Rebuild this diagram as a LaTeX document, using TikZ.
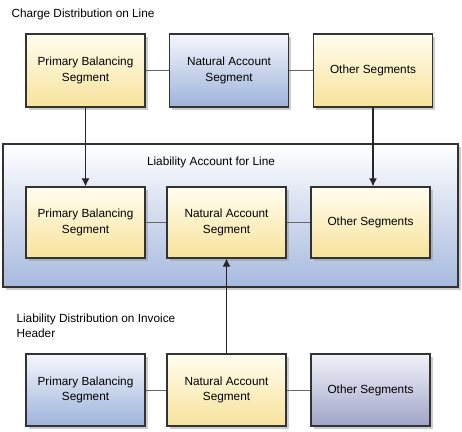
\documentclass[tikz,border=0pt]{standalone}
\usepackage{fontspec}
\setmainfont{Liberation Sans}
\usetikzlibrary{shadows,arrows.meta}
\definecolor{ylwtop}{HTML}{FFFDEF}
\definecolor{ylwbot}{HTML}{F7E39B}
\definecolor{blutop}{HTML}{F4F6FC}
\definecolor{blubot}{HTML}{9EB3DB}
\definecolor{grytop}{HTML}{F2F2F8}
\definecolor{grybot}{HTML}{9FA4C8}
\tikzset{acctbox/.style={draw=black!80,line width=1.3pt,inner sep=0pt,align=center,
    drop shadow={shadow xshift=2.5pt,shadow yshift=-2.5pt,fill=black!40,opacity=0.5}},
  ylwseg/.style={acctbox,minimum width=119pt,minimum height=72pt,top color=ylwtop,bottom color=ylwbot},
  bluseg/.style={acctbox,minimum width=119pt,minimum height=72pt,top color=blutop,bottom color=blubot},
  gryseg/.style={acctbox,minimum width=119pt,minimum height=72pt,top color=grytop,bottom color=grybot},
  acctlink/.style={draw=black!60,line width=1pt},
  acctflow/.style={line width=1.1pt,draw=black!85,-{Latex[length=8pt,width=8pt]}}}

\begin{document}
\begin{tikzpicture}[x=1pt,y=-1pt,font=\fontsize{11.8}{15.5}\selectfont]
\useasboundingbox (0,0) rectangle (462,431);
% charge distribution
\node (chg) [anchor=west] at (8,14) {Charge Distribution on Line};
\node (cpb) [ylwseg,minimum height=73pt] at (85.5,70.5) {Primary Balancing\\Segment};
\node (cna) [bluseg,minimum height=73pt] at (229,70.5) {Natural Account\\Segment};
\node (cos) [ylwseg,minimum height=73pt] at (373,70.5) {Other Segments};
\draw[acctlink] (cpb) -- (cna);
\draw[acctlink] (cna) -- (cos);
% liability account
\node (liab) [acctbox,minimum width=455pt,minimum height=143pt,top color=white,bottom color=blubot!92] at (230.5,215.5) {};
\node (liabt) at (211,162) {Liability Account for Line};
\node (lpb) [ylwseg,minimum height=71pt] at (85.5,222.5) {Primary Balancing\\Segment};
\node (lna) [ylwseg,minimum height=71pt] at (226.5,222.5) {Natural Account\\Segment};
\node (los) [ylwseg,minimum height=71pt] at (370.5,222.5) {Other Segments};
\draw[acctlink] (lpb) -- (lna);
\draw[acctlink] (lna) -- (los);
% invoice header
\node (inv) [anchor=west,align=left] at (13,326) {Liability Distribution on Invoice\\Header};
\node (ipb) [bluseg] at (85.5,390) {Primary Balancing\\Segment};
\node (ina) [ylwseg] at (226.5,390) {Natural Account\\Segment};
\node (ios) [gryseg] at (370.5,390) {Other Segments};
\draw[acctlink] (ipb) -- (ina);
\draw[acctlink] (ina) -- (ios);
\draw[acctflow] (cpb.south) -- (cpb.south |- lpb.north);
\draw[acctflow] (cos.south) -- (cos.south |- los.north);
\draw[acctflow] (ina.north) -- (lna.south);
\end{tikzpicture}
\end{document}
